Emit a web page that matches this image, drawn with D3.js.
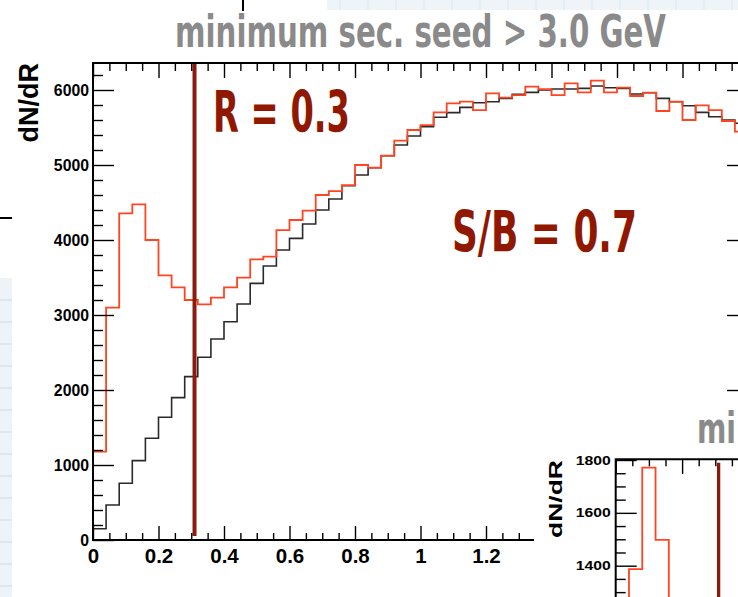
<!DOCTYPE html>
<html>
<head>
<meta charset="utf-8">
<script src="https://cdn.jsdelivr.net/npm/d3@7"></script>
<style>
  html, body { margin: 0; padding: 0; background: #fff; overflow: hidden; }
  svg { display: block; }
</style>
</head>
<body>
<svg id="chart" width="738" height="597"></svg>
<script>
// bin contents, bins of 0.04 in R
const binWidth = 0.04;
const blackCounts = [150, 467, 756, 1058, 1356, 1636, 1898, 2178, 2436, 2680,
    2911, 3147, 3422, 3653, 3867, 4022, 4213, 4400, 4547, 4724,
    4867, 4964, 5124, 5267, 5387, 5511, 5636, 5698, 5769, 5831,
    5844, 5889, 5942, 5969, 6000, 6013, 6013, 6022, 6053, 6031,
    6022, 5947, 5964, 5889, 5844, 5791, 5702, 5644, 5600, 5556];
const redCounts = [1178, 3098, 4356, 4476, 4000, 3529, 3369, 3200, 3142, 3231,
    3369, 3498, 3742, 3778, 4133, 4267, 4391, 4600, 4653, 4733,
    5000, 4964, 5124, 5324, 5467, 5533, 5702, 5822, 5844, 5733,
    5956, 5898, 5933, 6044, 6013, 5933, 6089, 5969, 6124, 5969,
    6031, 5920, 5964, 5720, 5844, 5600, 5796, 5733, 5587, 5444];
// second (cut off) plot in the corner, only the first bins are visible
const insetRedCounts = [560, 1387, 1771, 1498, 1230];
const cutR = 0.31;

const xMajorTicks = [0, 0.2, 0.4, 0.6, 0.8, 1, 1.2, 1.4, 1.6, 1.8, 2];
// labels right of 1.2 sit under the neighbouring plot
const xLabelTicks = [0, 0.2, 0.4, 0.6, 0.8, 1, 1.2];
const xTickLabels = ["0", "0.2", "0.4", "0.6", "0.8", "1", "1.2"];
const yMajorTicks = [0, 1000, 2000, 3000, 4000, 5000, 6000];
const yTickLabels = ["0", "1000", "2000", "3000", "4000", "5000", "6000"];
const insetYTicks = [1400, 1600, 1800];
const insetYLabels = ["1400", "1600", "1800"];

const titleText = "minimum sec. seed > 3.0 GeV";
const rText = "R = 0.3";
const sbText = "S/B = 0.7";
const yTitle = "dN/dR";

const svg = d3.select("#chart");
const handFont = "'DejaVu Sans Condensed', 'DejaVu Sans', sans-serif";
const axisFont = "'Liberation Sans', Arial, Helvetica, sans-serif";

// slide background scraps
svg.append("rect").attr("x", 0).attr("y", 278).attr("width", 12).attr("height", 319).attr("fill", "#edf3f6");
svg.append("g").selectAll("line")
    .data(d3.range(300, 597, 22))
    .join("line")
    .attr("x1", 0).attr("x2", 12)
    .attr("y1", d => d).attr("y2", d => d)
    .attr("stroke", "#d6e4ea").attr("stroke-width", 1.5);
svg.append("rect").attr("x", 327).attr("y", 0).attr("width", 411).attr("height", 10).attr("fill", "#eef4f7");
svg.append("g").selectAll("line")
    .data(d3.range(340, 738, 28))
    .join("line")
    .attr("x1", d => d).attr("x2", d => d)
    .attr("y1", 0).attr("y2", 10)
    .attr("stroke", "#d9e6ec").attr("stroke-width", 1);
svg.append("line").attr("x1", 0).attr("x2", 12).attr("y1", 218).attr("y2", 218)
    .attr("stroke", "#000").attr("stroke-width", 2);
svg.append("line").attr("x1", 243).attr("x2", 243).attr("y1", 0).attr("y2", 11)
    .attr("stroke", "#000").attr("stroke-width", 2);

// main plot scales
const x = d3.scaleLinear().domain([0, 2]).range([93, 748]);
const y = d3.scaleLinear().domain([0, 6360]).range([540, 63]);

svg.append("clipPath").attr("id", "mainClip")
    .append("rect")
    .attr("x", x(0)).attr("y", y(6360))
    .attr("width", x(2) - x(0)).attr("height", y(0) - y(6360));

function stepPoints(counts) {
    const pts = [[0, 0]];
    counts.forEach((c, i) => {
        pts.push([i * binWidth, c]);
        pts.push([(i + 1) * binWidth, c]);
    });
    pts.push([counts.length * binWidth, 0]);
    return pts;
}

const mainLine = d3.line().x(d => x(d[0])).y(d => y(d[1]));
const hists = svg.append("g").attr("clip-path", "url(#mainClip)");

hists.append("path")
    .attr("d", mainLine(stepPoints(blackCounts)))
    .attr("fill", "none")
    .attr("stroke", "#2a2a2a")
    .attr("stroke-width", 1.6);

hists.append("path")
    .attr("d", mainLine(stepPoints(redCounts)))
    .attr("fill", "none")
    .attr("stroke", "#ff4422")
    .attr("stroke-width", 1.8);

// cut line
svg.append("line")
    .attr("x1", x(cutR)).attr("x2", x(cutR))
    .attr("y1", y(6360)).attr("y2", 536)
    .attr("stroke", "#8b1a0f")
    .attr("stroke-width", 4);

// ticks point inward, like ROOT
const isMajor = (v, step) => Math.abs(v / step - Math.round(v / step)) < 1e-6;
const xMinor = d3.range(0, 2.0001, 0.05).filter(v => !isMajor(v, 0.2));
const yMinor = d3.range(0, 6360, 200).filter(v => !isMajor(v, 1000));

function styleTicks(g) {
    g.select(".domain").remove();
    g.selectAll("line").attr("stroke", "#000").attr("stroke-width", 1.4);
}

svg.append("g").attr("transform", `translate(0,${y(0)})`)
    .call(d3.axisBottom(x).tickValues(xMajorTicks).tickSizeInner(-14).tickSizeOuter(0).tickFormat(""))
    .call(styleTicks);
svg.append("g").attr("transform", `translate(0,${y(0)})`)
    .call(d3.axisBottom(x).tickValues(xLabelTicks).tickSize(0)
        .tickPadding(8).tickFormat((d, i) => xTickLabels[i]))
    .call(styleTicks)
    .call(g => g.selectAll("text")
        .attr("fill", "#000")
        .style("font-family", axisFont)
        .style("font-weight", "bold")
        .style("font-size", "20.5px"));
svg.append("g").attr("transform", `translate(0,${y(0)})`)
    .call(d3.axisBottom(x).tickValues(xMinor).tickSizeInner(-7).tickSizeOuter(0).tickFormat(""))
    .call(styleTicks);
svg.append("g").attr("transform", `translate(0,${y(6360)})`)
    .call(d3.axisTop(x).tickValues(xMajorTicks).tickSizeInner(-15).tickSizeOuter(0).tickFormat(""))
    .call(styleTicks);
svg.append("g").attr("transform", `translate(0,${y(6360)})`)
    .call(d3.axisTop(x).tickValues(xMinor).tickSizeInner(-8).tickSizeOuter(0).tickFormat(""))
    .call(styleTicks);

svg.append("g").attr("transform", `translate(${x(0)},0)`)
    .call(d3.axisLeft(y).tickValues(yMajorTicks).tickSizeInner(-21).tickSizeOuter(0)
        .tickPadding(4).tickFormat((d, i) => yTickLabels[i]))
    .call(styleTicks)
    .call(g => g.selectAll("text")
        .attr("fill", "#000")
        .style("font-family", axisFont)
        .style("font-weight", "bold")
        .style("font-size", "15.8px"));
svg.append("g").attr("transform", `translate(${x(0)},0)`)
    .call(d3.axisLeft(y).tickValues(yMinor).tickSizeInner(-10).tickSizeOuter(0).tickFormat(""))
    .call(styleTicks);
svg.append("g").attr("transform", `translate(${x(2)},0)`)
    .call(d3.axisRight(y).tickValues(yMajorTicks).tickSizeInner(-21).tickSizeOuter(0).tickFormat(""))
    .call(styleTicks);
svg.append("g").attr("transform", `translate(${x(2)},0)`)
    .call(d3.axisRight(y).tickValues(yMinor).tickSizeInner(-10).tickSizeOuter(0).tickFormat(""))
    .call(styleTicks);

// frame
svg.append("rect")
    .attr("x", x(0)).attr("y", y(6360))
    .attr("width", x(2) - x(0)).attr("height", y(0) - y(6360))
    .attr("fill", "none")
    .attr("stroke", "#000")
    .attr("stroke-width", 2);

// y title
svg.append("text")
    .attr("transform", `translate(38,${y(6360)}) rotate(-90)`)
    .attr("text-anchor", "end")
    .style("font-family", axisFont)
    .style("font-weight", "bold")
    .style("font-size", "27px")
    .text(yTitle);

// slide annotations; the title font is tall and narrow, so stretch it vertically
svg.append("text")
    .attr("transform", "translate(175,47) scale(1,1.4)")
    .attr("textLength", 491).attr("lengthAdjust", "spacingAndGlyphs")
    .attr("fill", "#8a8a8a")
    .style("font-family", handFont)
    .style("font-weight", "bold")
    .style("font-size", "32px")
    .text(titleText);

svg.append("text")
    .attr("x", 213).attr("y", 132)
    .attr("textLength", 137).attr("lengthAdjust", "spacingAndGlyphs")
    .attr("fill", "#901800")
    .style("font-family", handFont)
    .style("font-weight", "bold")
    .style("font-size", "57px")
    .text(rText);

svg.append("text")
    .attr("x", 452).attr("y", 252)
    .attr("textLength", 185).attr("lengthAdjust", "spacingAndGlyphs")
    .attr("fill", "#901800")
    .style("font-family", handFont)
    .style("font-weight", "bold")
    .style("font-size", "57px")
    .text(sbText);

// the neighbouring plot that overlaps the corner
const inset = svg.append("g");
inset.append("rect")
    .attr("x", 534).attr("y", 400).attr("width", 204).attr("height", 197)
    .attr("fill", "#fff");

const xi = d3.scaleLinear().domain([0, 0.4]).range([615.7, 615.7 + 0.4 * 332]);
const yi = d3.scaleLinear().domain([1400, 1800]).range([565.7, 460]);

inset.append("clipPath").attr("id", "insetClip")
    .append("rect")
    .attr("x", xi(0)).attr("y", 459.3)
    .attr("width", 738 - xi(0)).attr("height", 597 - 459.3);

const insetLine = d3.line().x(d => xi(d[0])).y(d => yi(d[1]));
inset.append("g").attr("clip-path", "url(#insetClip)")
    .append("path")
    .attr("d", insetLine(stepPoints(insetRedCounts)))
    .attr("fill", "none")
    .attr("stroke", "#ff4422")
    .attr("stroke-width", 1.8);

inset.append("line")
    .attr("x1", xi(cutR)).attr("x2", xi(cutR))
    .attr("y1", 462.7).attr("y2", 597)
    .attr("stroke", "#8b1a0f")
    .attr("stroke-width", 3.3);

const xiMinor = d3.range(0, 0.4001, 0.05).filter(v => !isMajor(v, 0.2));
const yiMinor = d3.range(1300, 1800, 50).filter(v => !isMajor(v, 200));

inset.append("g").attr("transform", "translate(0,459.3)")
    .call(d3.axisTop(xi).tickValues([0, 0.2, 0.4]).tickSizeInner(-14.7).tickSizeOuter(0).tickFormat(""))
    .call(styleTicks);
inset.append("g").attr("transform", "translate(0,459.3)")
    .call(d3.axisTop(xi).tickValues(xiMinor).tickSizeInner(-7).tickSizeOuter(0).tickFormat(""))
    .call(styleTicks);
inset.append("g").attr("transform", `translate(${xi(0)},0)`)
    .call(d3.axisLeft(yi).tickValues(insetYTicks).tickSizeInner(-21).tickSizeOuter(0)
        .tickPadding(5).tickFormat((d, i) => insetYLabels[i]))
    .call(styleTicks)
    .call(g => g.selectAll("text")
        .attr("fill", "#000")
        .attr("textLength", 35).attr("lengthAdjust", "spacingAndGlyphs")
        .style("font-family", axisFont)
        .style("font-weight", "bold")
        .style("font-size", "12.5px"));
inset.append("g").attr("transform", `translate(${xi(0)},0)`)
    .call(d3.axisLeft(yi).tickValues(yiMinor).tickSizeInner(-10).tickSizeOuter(0).tickFormat(""))
    .call(styleTicks);

inset.append("path")
    .attr("d", `M${xi(0)},597V459.3H738`)
    .attr("fill", "none")
    .attr("stroke", "#000")
    .attr("stroke-width", 2);

inset.append("text")
    .attr("transform", "translate(562,460) scale(0.7,1) rotate(-90)")
    .attr("text-anchor", "end")
    .style("font-family", axisFont)
    .style("font-weight", "bold")
    .style("font-size", "26.5px")
    .text(yTitle);

inset.append("text")
    .attr("transform", "translate(697,443) scale(1,1.4)")
    .attr("textLength", 39).attr("lengthAdjust", "spacingAndGlyphs")
    .attr("fill", "#8a8a8a")
    .style("font-family", handFont)
    .style("font-weight", "bold")
    .style("font-size", "30px")
    .text("mi");
</script>
</body>
</html>
